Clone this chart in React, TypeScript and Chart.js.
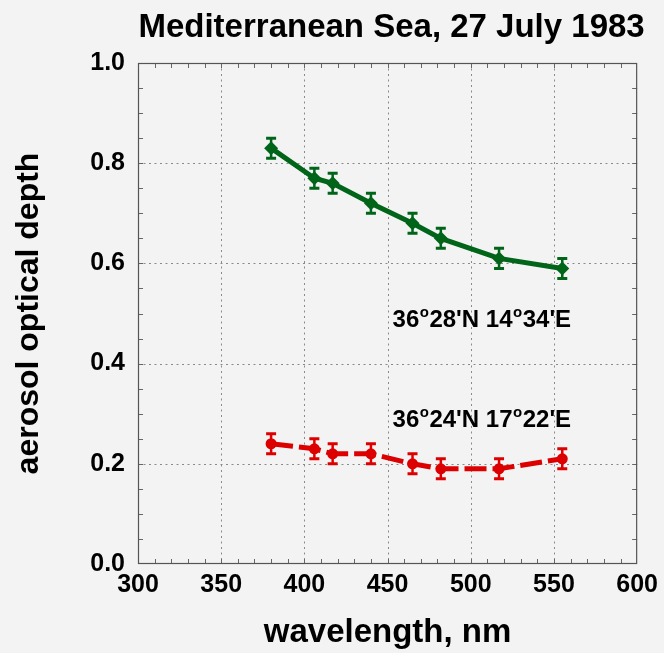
import React, { useEffect, useRef } from "react";
import { Chart, registerables } from "chart.js";

Chart.register(...registerables);

const FONT = '"Liberation Sans", Arial, Helvetica, sans-serif';
const BG = "#f3f3f3";

const TITLE = "Mediterranean Sea, 27 July 1983";
const X_TITLE = "wavelength, nm";
const Y_TITLE = "aerosol optical depth";

const X_MIN = 300;
const X_MAX = 600;
const X_STEP = 50;
const X_MINOR = 10;
const Y_MIN = 0;
const Y_MAX = 1;
const Y_STEP = 0.2;
const Y_MINOR = 0.05;

const GREEN_WAVELENGTHS = [380, 406, 417, 440, 465, 482, 517, 555];
const GREEN_AOD = [0.83, 0.77, 0.76, 0.72, 0.68, 0.65, 0.61, 0.59];
const GREEN_ERR = [0.02, 0.02, 0.02, 0.02, 0.02, 0.02, 0.02, 0.02];

const RED_WAVELENGTHS = [380, 406, 417, 440, 465, 482, 517, 555];
const RED_AOD = [0.24, 0.23, 0.22, 0.22, 0.2, 0.19, 0.19, 0.21];
const RED_ERR = [0.02, 0.02, 0.02, 0.02, 0.02, 0.02, 0.02, 0.02];

const GREEN = "#006419";
const RED = "#dd0000";

// Annotation labels (° drawn as superscript "o") and their anchor in data units
const LABELS = ["36°28'N 14°34'E", "36°24'N 17°22'E"];
const LABEL_X = [453, 453];
const LABEL_Y = [0.474, 0.274];

const ERRORS: number[][] = [GREEN_ERR, RED_ERR];

const bgPlugin = {
  id: "bg",
  beforeDraw(chart: any) {
    const { ctx, width, height } = chart;
    ctx.save();
    ctx.fillStyle = BG;
    ctx.fillRect(0, 0, width, height);
    ctx.restore();
  },
};

const framePlugin = {
  id: "frame",
  beforeDatasetsDraw(chart: any) {
    const { ctx, chartArea } = chart;
    const { left, right, top, bottom } = chartArea;
    const xs = chart.scales.x;
    const ys = chart.scales.y;
    ctx.save();
    ctx.strokeStyle = "#8a8a8a";
    ctx.lineWidth = 1;
    ctx.setLineDash([2, 3.5]);
    const nX = Math.round((X_MAX - X_MIN) / X_STEP);
    for (let i = 1; i < nX; i++) {
      const px = Math.round(xs.getPixelForValue(X_MIN + i * X_STEP)) + 0.5;
      ctx.beginPath();
      ctx.moveTo(px, top);
      ctx.lineTo(px, bottom);
      ctx.stroke();
    }
    const nY = Math.round((Y_MAX - Y_MIN) / Y_STEP);
    for (let i = 1; i < nY; i++) {
      const py = Math.round(ys.getPixelForValue(Y_MIN + i * Y_STEP)) + 0.5;
      ctx.beginPath();
      ctx.moveTo(left, py);
      ctx.lineTo(right, py);
      ctx.stroke();
    }
    ctx.setLineDash([]);
    ctx.strokeStyle = "#666";
    const tl = 5;
    const nXm = Math.round((X_MAX - X_MIN) / X_MINOR);
    for (let i = 1; i < nXm; i++) {
      const px = Math.round(xs.getPixelForValue(X_MIN + i * X_MINOR)) + 0.5;
      ctx.beginPath();
      ctx.moveTo(px, bottom);
      ctx.lineTo(px, bottom - tl);
      ctx.moveTo(px, top);
      ctx.lineTo(px, top + tl);
      ctx.stroke();
    }
    const nYm = Math.round((Y_MAX - Y_MIN) / Y_MINOR);
    for (let i = 1; i < nYm; i++) {
      const py = Math.round(ys.getPixelForValue(Y_MIN + i * Y_MINOR)) + 0.5;
      ctx.beginPath();
      ctx.moveTo(left, py);
      ctx.lineTo(left + tl, py);
      ctx.moveTo(right, py);
      ctx.lineTo(right - tl, py);
      ctx.stroke();
    }
    ctx.strokeStyle = "#555";
    ctx.lineWidth = 1.2;
    ctx.strokeRect(left + 0.5, top + 0.5, right - left - 1, bottom - top - 1);
    ctx.restore();
  },
};

const errorBarPlugin = {
  id: "errbars",
  beforeDatasetsDraw(chart: any) {
    const { ctx } = chart;
    const xs = chart.scales.x;
    const ys = chart.scales.y;
    ctx.save();
    chart.data.datasets.forEach((ds: any, di: number) => {
      const errs = ERRORS[di];
      if (!errs) return;
      ctx.strokeStyle = ds.borderColor;
      ctx.setLineDash([]);
      ds.data.forEach((p: any, i: number) => {
        const px = xs.getPixelForValue(p.x);
        const y1 = ys.getPixelForValue(p.y - errs[i]);
        const y2 = ys.getPixelForValue(p.y + errs[i]);
        const cw = 5;
        ctx.lineWidth = 2.5;
        ctx.beginPath();
        ctx.moveTo(px, y1);
        ctx.lineTo(px, y2);
        ctx.stroke();
        ctx.lineWidth = 3;
        ctx.beginPath();
        ctx.moveTo(px - cw, y1);
        ctx.lineTo(px + cw, y1);
        ctx.moveTo(px - cw, y2);
        ctx.lineTo(px + cw, y2);
        ctx.stroke();
      });
    });
    ctx.restore();
  },
};

const textPlugin = {
  id: "texts",
  afterDraw(chart: any) {
    const { ctx, chartArea } = chart;
    const xs = chart.scales.x;
    const ys = chart.scales.y;
    ctx.save();
    ctx.fillStyle = "#000";
    ctx.font = `bold 33px ${FONT}`;
    ctx.textAlign = "center";
    ctx.textBaseline = "alphabetic";
    ctx.fillText(TITLE, (chartArea.left + chartArea.right) / 2 + 4, 37);
    ctx.textAlign = "left";
    LABELS.forEach((label, li) => {
      let x = xs.getPixelForValue(LABEL_X[li]);
      const y = ys.getPixelForValue(LABEL_Y[li]);
      const parts = label.split("°");
      parts.forEach((part, pi) => {
        ctx.font = `bold 24px ${FONT}`;
        ctx.fillText(part, x, y);
        x += ctx.measureText(part).width;
        if (pi < parts.length - 1) {
          ctx.font = `bold 15px ${FONT}`;
          ctx.fillText("o", x + 0.5, y - 9.5);
          x += ctx.measureText("o").width + 1;
        }
      });
    });
    ctx.restore();
  },
};

export default function App() {
  const ref = useRef<HTMLCanvasElement | null>(null);

  useEffect(() => {
    document.body.style.margin = "0";
    document.body.style.background = BG;
    document.documentElement.style.overflow = "hidden";
    const canvas = ref.current;
    if (!canvas) return;
    const chart = new Chart(canvas, {
      type: "line",
      data: {
        datasets: [
          {
            label: "36°28'N 14°34'E",
            data: GREEN_WAVELENGTHS.map((w, i) => ({ x: w, y: GREEN_AOD[i] })),
            borderColor: GREEN,
            backgroundColor: GREEN,
            borderWidth: 5,
            pointStyle: "rectRot",
            pointRadius: 7,
            pointBorderWidth: 0,
            pointBackgroundColor: GREEN,
            tension: 0,
          },
          {
            label: "36°24'N 17°22'E",
            data: RED_WAVELENGTHS.map((w, i) => ({ x: w, y: RED_AOD[i] })),
            borderColor: RED,
            backgroundColor: RED,
            borderWidth: 5,
            borderDash: [22, 6],
            pointStyle: "circle",
            pointRadius: 5.5,
            pointBorderWidth: 0,
            pointBackgroundColor: RED,
            tension: 0,
          },
        ],
      },
      options: {
        responsive: false,
        animation: false,
        devicePixelRatio: 1,
        layout: { padding: { top: 63, right: 24, left: 0, bottom: 0 } },
        plugins: {
          legend: { display: false },
          tooltip: { enabled: false },
          title: { display: false },
        },
        scales: {
          x: {
            type: "linear",
            position: "bottom",
            min: X_MIN,
            max: X_MAX,
            grid: { display: false, drawTicks: false },
            border: { display: false },
            ticks: {
              stepSize: X_STEP,
              padding: 6,
              color: "#000",
              maxRotation: 0,
              font: { family: FONT, size: 25, weight: "bold" },
            },
            title: {
              display: true,
              text: X_TITLE,
              color: "#000",
              font: { family: FONT, size: 33, weight: "bold" },
              padding: { top: 0, bottom: 0 },
            },
            afterFit(scale: any) {
              scale.height = 89;
            },
          },
          y: {
            type: "linear",
            min: Y_MIN,
            max: Y_MAX,
            grid: { display: false, drawTicks: false },
            border: { display: false },
            ticks: {
              stepSize: Y_STEP,
              padding: 13,
              color: "#000",
              font: { family: FONT, size: 25, weight: "bold" },
              callback: (v: any) => Number(v).toFixed(1),
            },
            title: {
              display: true,
              text: Y_TITLE,
              color: "#000",
              font: { family: FONT, size: 32, weight: "bold" },
              padding: { top: 10, bottom: 0 },
            },
            afterFit(scale: any) {
              scale.width = 138;
            },
          },
        },
      },
      plugins: [bgPlugin, framePlugin, errorBarPlugin, textPlugin],
    } as any);
    return () => chart.destroy();
  }, []);

  return (
    <div style={{ width: 664, height: 653, background: BG }}>
      <canvas ref={ref} width={664} height={653} style={{ display: "block", width: 664, height: 653 }} />
    </div>
  );
}
